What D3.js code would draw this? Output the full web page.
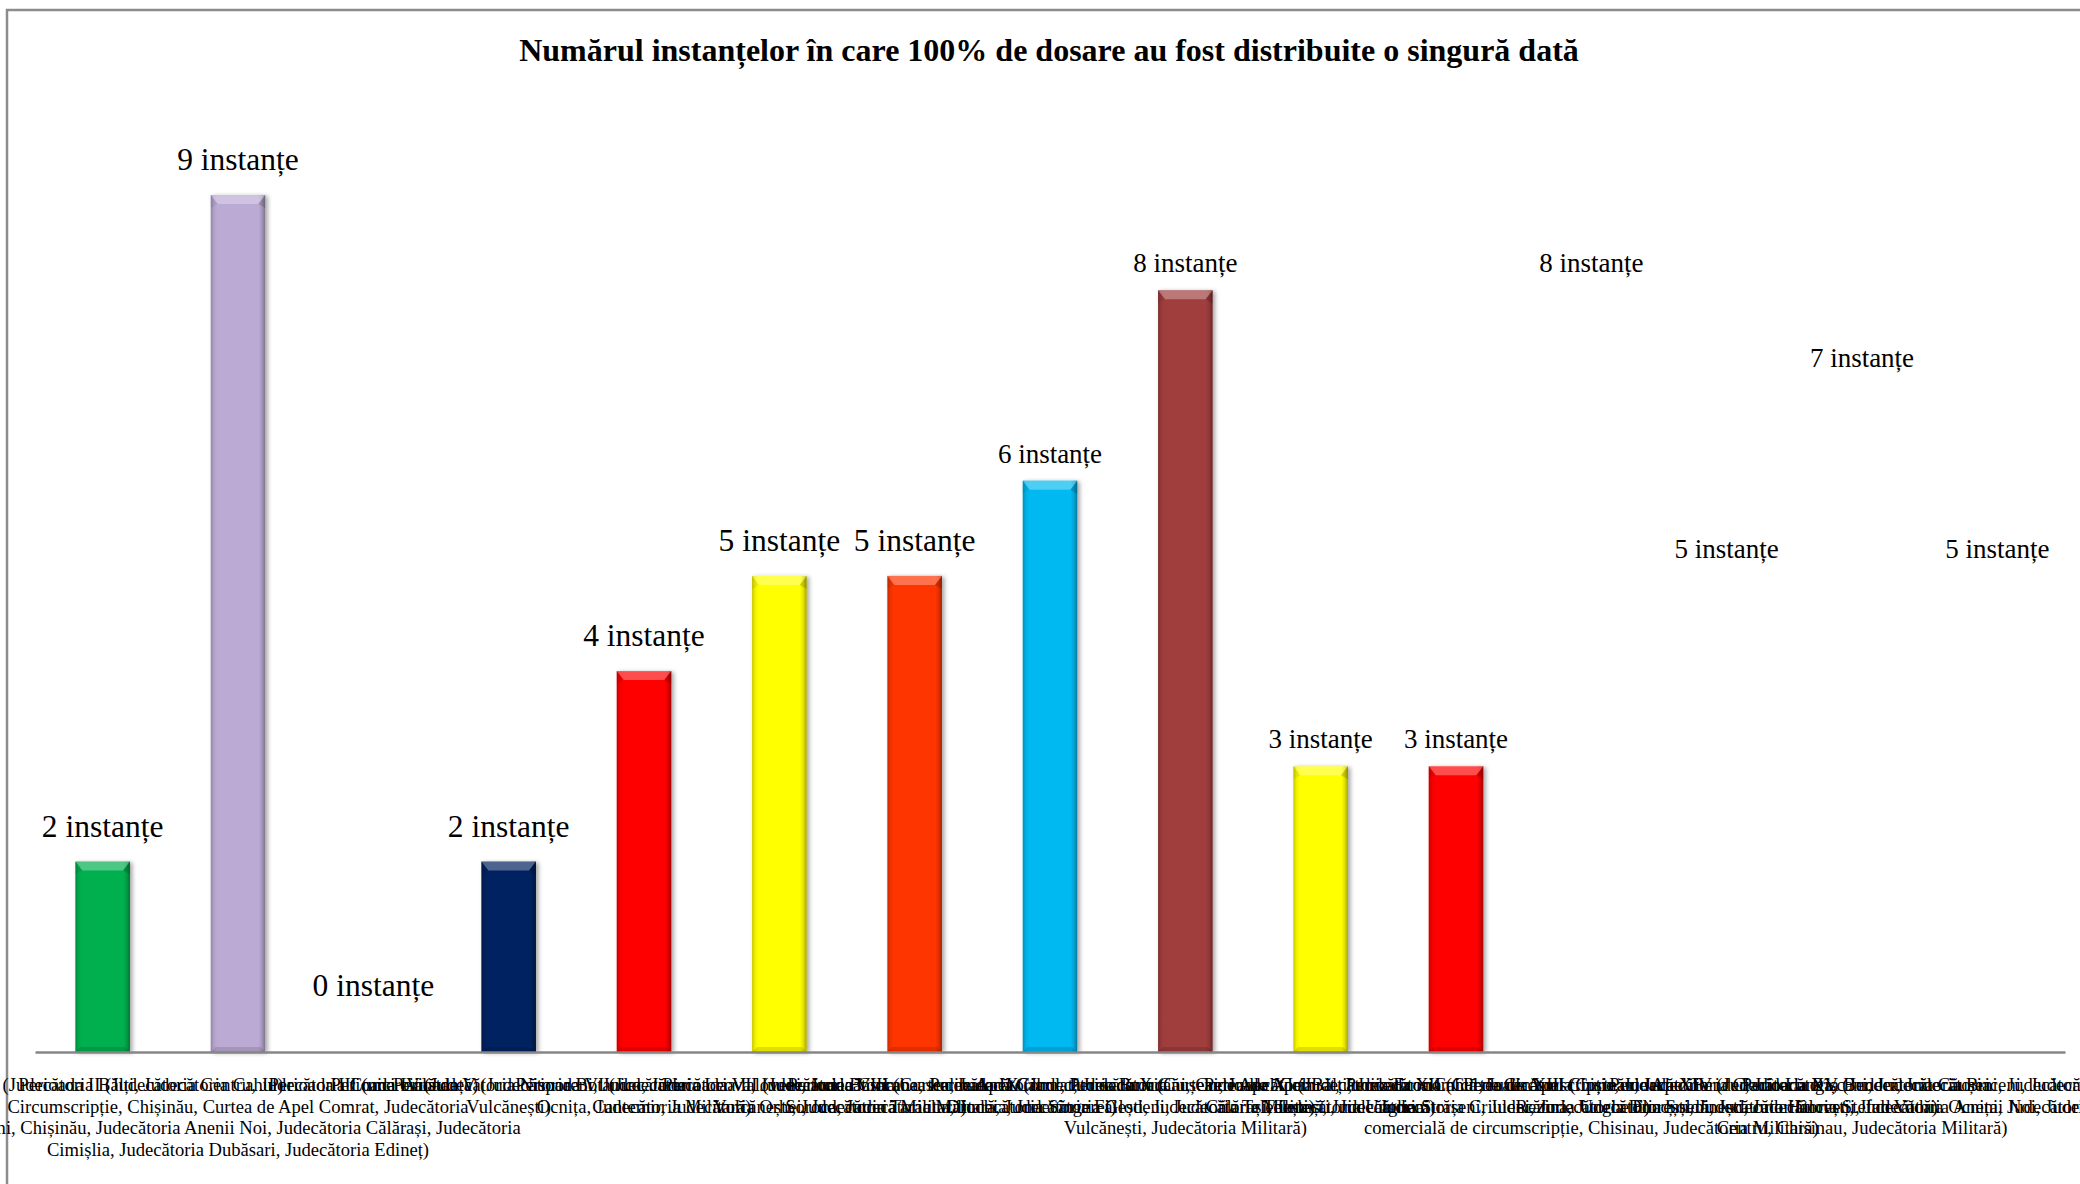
<!DOCTYPE html>
<html>
<head>
<meta charset="utf-8">
<script src="https://cdn.jsdelivr.net/npm/d3@7"></script>
<style>
  html, body { margin: 0; padding: 0; background: #ffffff; }
  svg { display: block; }
</style>
</head>
<body>
<div id="chart"></div>
<script>
// ---------------- DATA ----------------
const chartTitle = "Numărul instanțelor în care 100% de dosare au fost distribuite o singură dată";

const categories = [
  ["Perioada I (Judecătoria Bălți, Judecătoria Cahul)"],
  ["Perioada II (Judecătoria Centru, Judecătoria Comercială de",
   "Circumscripție, Chișinău, Curtea de Apel Comrat, Judecătoria",
   "Rîșcani, Chișinău, Judecătoria Anenii Noi, Judecătoria Călărași, Judecătoria",
   "Cimișlia, Judecătoria Dubăsari, Judecătoria Edineț)"],
  ["Perioada III (nici o instanță)"],
  ["Perioada IV (Judecătoria Nisporeni, Judecătoria",
   "Vulcănești)"],
  ["Perioada V (Judecătoria Botanica, Judecătoria Ialoveni, Judecătoria",
   "Ocnița, Judecătoria Militară)"],
  ["Perioada VI (Judecătoria Leova, Judecătoria Basarabeasca, Judecătoria",
   "Cantemir, Judecătoria Orhei, Judecătoria Militară)"],
  ["Perioada VII (Judecătoria Ciocana, Judecătoria Comrat, Judecătoria",
   "Vulcănești, Judecătoria Taraclia, Judecătoria Sîngerei)"],
  ["Perioada VIII (Curtea de Apel Cahul, Judecătoria Căușeni, Judecătoria",
   "Soroca, Judecătoria Militară, Judecătoria Fălești, Judecătoria Telenești)"],
  ["Perioada IX (Judecătoria Buiucani, Curtea de Apel Bălți, Judecătoria",
   "Drochia, Judecătoria Glodeni, Judecătoria Telenești, Judecătoria",
   "Vulcănești, Judecătoria Militară)"],
  ["Perioada X (Curtea de Apel Comrat, Judecătoria Cahul, Judecătoria",
   "Călărași, Judecătoria Ungheni)"],
  ["Perioada XI (Judecătoria Economică de Circumscripție, Judecătoria",
   "Militară, Judecătoria Strășeni, Judecătoria Ungheni)"],
  ["Perioada XII (Curtea de Apel Chișinău, Judecătoria Ciadîr-Lunga,",
   "Judecătoria Criuleni, Judecătoria Dondușeni, Judecătoria",
   "comercială de circumscripție, Chisinau, Judecătoria Militară)"],
  ["Perioada XIII (Curtea de Apel Bender, Judecătoria Bender, Judecătoria",
   "Rezina, Judecătoria Șoldănești, Judecătoria Ștefan Vodă)"],
  ["Perioada XIV (Judecătoria Rîșcani, Judecătoria Briceni, Judecătoria",
   "Florești, Judecătoria Hîncești, Judecătoria Ocnița, Judecătoria",
   "Centru, Chisinau, Judecătoria Militară)"],
  ["Perioada XV (Judecătoria Căușeni, Judecătoria Cimișlia, Judecătoria",
   "Ialoveni, Judecătoria Anenii Noi, Judecătoria Militară)"]
];

const values = [2, 9, 0, 2, 4, 5, 5, 6, 8, 3, 3, 8, 5, 7, 5];

const barColors = ["#00B050", "#BBAAD4", null, "#002060", "#FF0000", "#FFFF00",
                   "#FF3600", "#00B9F1", "#A03D3D", "#FFFF00", "#FF0000",
                   null, null, null, null];

const valueSuffix = " instanțe";

// ---------------- LAYOUT / STYLE ----------------
const W = 2080, H = 1184;
const FONT = "'Liberation Serif', 'Times New Roman', 'DejaVu Serif', serif";
const plot = { left: 35, right: 2065, base: 1052, top9: 195 };
const largeLabelCount = 7;        // first labels drawn in larger type
const LABEL_LARGE = 31.5, LABEL_SMALL = 27;

const svg = d3.select("#chart").append("svg")
  .attr("width", W).attr("height", H)
  .attr("viewBox", `0 0 ${W} ${H}`);

svg.append("rect").attr("width", W).attr("height", H).attr("fill", "#ffffff");

// outer chart frame (extends beyond right/bottom edge)
svg.append("rect")
  .attr("x", 7).attr("y", 10)
  .attr("width", W + 20).attr("height", H + 20)
  .attr("fill", "none")
  .attr("stroke", "#8c8c8c")
  .attr("stroke-width", 2.5);

const defs = svg.append("defs");
const shadow = defs.append("filter").attr("id", "shadow")
  .attr("x", "-30%").attr("y", "-5%").attr("width", "160%").attr("height", "110%");
shadow.append("feDropShadow")
  .attr("dx", 2.5).attr("dy", 1).attr("stdDeviation", 2)
  .attr("flood-color", "#000").attr("flood-opacity", 0.35);

const sideGrad = defs.append("linearGradient").attr("id", "side")
  .attr("x1", "0%").attr("x2", "100%").attr("y1", "0%").attr("y2", "0%");
[[0, 0.22], [0.06, 0.05], [0.12, 0], [0.88, 0], [0.94, 0.12], [1, 0.35]]
  .forEach(([o, a]) => sideGrad.append("stop")
    .attr("offset", o).attr("stop-color", "#000").attr("stop-opacity", a));

// ---------------- SCALES ----------------
const x = d3.scaleBand()
  .domain(d3.range(values.length))
  .range([plot.left, plot.right])
  .paddingInner(0.597)
  .paddingOuter(0.2985);

const y = d3.scaleLinear()
  .domain([0, 9])
  .range([plot.base, plot.top9]);

const bw = x.bandwidth();

// ---------------- TITLE ----------------
svg.append("text")
  .attr("x", 1049).attr("y", 61)
  .attr("text-anchor", "middle")
  .attr("font-family", FONT)
  .attr("font-weight", "bold")
  .attr("font-size", 32)
  .attr("fill", "#000")
  .text(chartTitle);

// ---------------- BARS ----------------
const barData = values.map((v, i) => ({ i, v, color: barColors[i] }))
  .filter(d => d.color && d.v > 0);

const bars = svg.append("g").selectAll("g.bar")
  .data(barData).join("g").attr("class", "bar");

bars.append("rect")
  .attr("x", d => x(d.i)).attr("y", d => y(d.v))
  .attr("width", bw).attr("height", d => y(0) - y(d.v))
  .attr("fill", d => d.color)
  .attr("filter", "url(#shadow)");

bars.append("rect")
  .attr("x", d => x(d.i)).attr("y", d => y(d.v))
  .attr("width", bw).attr("height", d => y(0) - y(d.v))
  .attr("fill", "url(#side)");

// top bevel
bars.append("polygon")
  .attr("points", d => {
    const x0 = x(d.i), x1 = x0 + bw, t = y(d.v), b = 9, s = 7;
    return `${x0},${t} ${x1},${t} ${x1 - s},${t + b} ${x0 + s},${t + b}`;
  })
  .attr("fill", "#ffffff").attr("fill-opacity", 0.3);
bars.append("polygon")
  .attr("points", d => {
    const x0 = x(d.i), t = y(d.v), b = 9, s = 7;
    return `${x0},${t} ${x0 + s},${t + b} ${x0},${t + b + 4}`;
  })
  .attr("fill", "#000").attr("fill-opacity", 0.06);
bars.append("polygon")
  .attr("points", d => {
    const x1 = x(d.i) + bw, t = y(d.v), b = 9, s = 7;
    return `${x1},${t} ${x1 - s},${t + b} ${x1},${t + b + 4}`;
  })
  .attr("fill", "#000").attr("fill-opacity", 0.15);
// bottom bevel
bars.append("polygon")
  .attr("points", d => {
    const x0 = x(d.i), x1 = x0 + bw, bt = y(0), b = 5, s = 5;
    return `${x0},${bt} ${x1},${bt} ${x1 - s},${bt - b} ${x0 + s},${bt - b}`;
  })
  .attr("fill", "#000").attr("fill-opacity", 0.12);

// ---------------- AXIS ----------------
const axis = svg.append("g")
  .attr("transform", `translate(0,${plot.base})`)
  .call(d3.axisBottom(x).tickSize(0).tickSizeOuter(0).tickFormat(() => ""));
axis.select(".domain").attr("stroke", "#868686").attr("stroke-width", 2.5);
axis.selectAll(".tick text").remove();

// category labels (multi-line)
const catG = svg.append("g")
  .attr("font-family", FONT).attr("font-size", 18.6).attr("fill", "#000");
categories.forEach((lines, i) => {
  const t = catG.append("text")
    .attr("x", x(i) + bw / 2).attr("y", 1091)
    .attr("text-anchor", "middle");
  lines.forEach((ln, k) => {
    t.append("tspan").attr("x", x(i) + bw / 2).attr("dy", k === 0 ? 0 : 21.6).text(ln);
  });
});

// ---------------- VALUE LABELS ----------------
svg.append("g").selectAll("text.val")
  .data(values.map((v, i) => ({ v, i })))
  .join("text").attr("class", "val")
  .attr("x", d => x(d.i) + bw / 2)
  .attr("y", d => {
    if (d.v === 0) return y(0) - 56;
    return y(d.v) - (d.i < largeLabelCount ? 25 : 18);
  })
  .attr("text-anchor", "middle")
  .attr("font-family", FONT)
  .attr("font-size", d => d.i < largeLabelCount ? LABEL_LARGE : LABEL_SMALL)
  .attr("fill", "#000")
  .text(d => d.v + valueSuffix);
</script>
</body>
</html>
